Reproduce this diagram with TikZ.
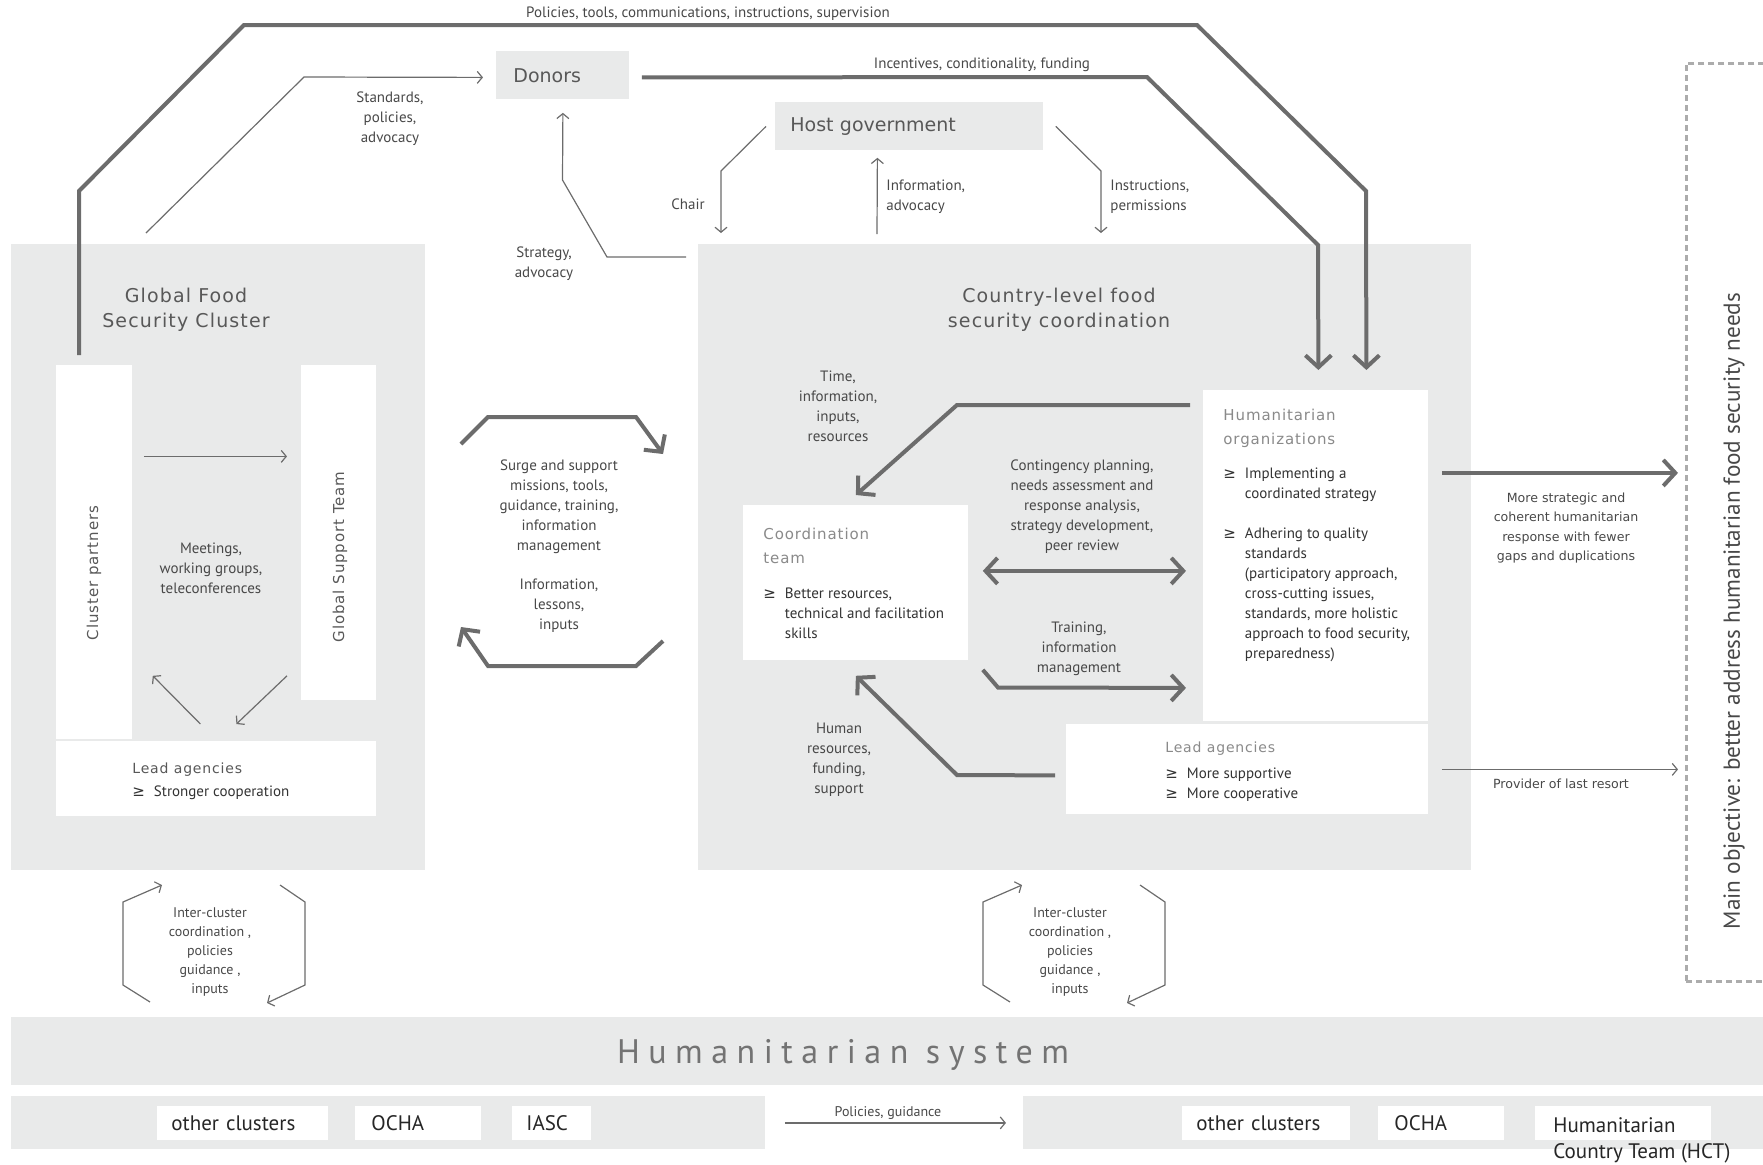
\documentclass[tikz,border=0pt]{standalone}
\usepackage{fontspec}
\setmainfont{PT Sans}
\newfontfamily\headfont[LetterSpace=6]{DejaVu Sans}
\newfontfamily\boxfont{DejaVu Sans}
\newfontfamily\sysfont[LetterSpace=25]{PT Sans}
\usetikzlibrary{arrows.meta, positioning, calc}
\definecolor{boxgray}{RGB}{233,234,234}
\definecolor{arrgray}{RGB}{108,108,108}
\definecolor{txtgray}{RGB}{72,72,72}
\definecolor{hdgray}{RGB}{88,88,88}
\definecolor{hdlight}{RGB}{138,138,138}
\definecolor{dashgray}{RGB}{172,172,172}
\newcommand{\lblsize}{\fontsize{7.5}{10}\selectfont}
\newcommand{\gebul}{{\boxfont ≥}\hspace{0.6em}}
\newcommand{\gein}{\phantom{\gebul}}

\begin{document}
\begin{tikzpicture}[x=0.5pt, y=-0.5pt,
    bigtip/.tip={Straight Barb[length=6pt, width=13pt]},
    thintip/.tip={Straight Barb[length=2.5pt, width=6pt]},
    gbox/.style={fill=boxgray, inner sep=0pt, anchor=north west},
    wbox/.style={fill=white, inner sep=0pt, anchor=north west},
    lbl/.style={font=\lblsize, text=txtgray, align=center, inner sep=0pt},
    hd/.style={font=\headfont\fontsize{9.5}{12.5}\selectfont, text=hdgray, align=center, inner sep=0pt},
    subhd/.style={font=\headfont\fontsize{7.5}{12}\selectfont, text=hdlight, align=left, inner sep=0pt, anchor=north west},
    bul/.style={font=\fontsize{7.5}{10}\selectfont, text=black!80, align=left, inner sep=0pt, anchor=north west},
    tagbox/.style={fill=white, inner sep=0pt, inner xsep=7pt, anchor=north west, minimum height=17pt,
                   font=\fontsize{10.5}{13}\selectfont, text=black!85, align=left},
    bigarr/.style={draw=arrgray, line width=2pt, -bigtip},
    bigdbl/.style={draw=arrgray, line width=2pt, bigtip-bigtip},
    thinarr/.style={draw=arrgray, line width=0.6pt, -thintip},
]
\useasboundingbox (0,0) rectangle (1763,1164);

% main boxes
\node[gbox, minimum width=207pt, minimum height=313pt] (gfsc) at (11,244) {};
\node[gbox, minimum width=386.5pt, minimum height=313pt] (clc) at (698,244) {};
\node[gbox, minimum width=66.5pt, minimum height=24pt, inner xsep=8.5pt, text width=49.5pt, align=left,
      font=\boxfont\fontsize{9.5}{11}\selectfont, text=hdgray] (donors) at (496,51) {Donors};
\node[gbox, minimum width=134pt, minimum height=24pt, inner xsep=7.5pt, text width=119pt, align=left,
      font=\boxfont\fontsize{9.5}{11}\selectfont, text=hdgray] (host) at (775,102) {Host government};
\node[hd] (gfsct) at (186,310) {Global Food\\Security Cluster};
\node[hd] (clct) at (1059,310) {Country-level food\\security coordination};

% global cluster
\node[wbox, minimum width=38pt, minimum height=187pt] (cp) at (56,365) {};
\node[wbox, minimum width=37.5pt, minimum height=167.5pt] (gst) at (301,365) {};
\node[wbox, minimum width=160pt, minimum height=37.5pt] (la1) at (56,741) {};
\node[rotate=90, font=\headfont\fontsize{7.5}{9}\selectfont, text=hdgray] (cpt) at (94,573) {Cluster partners};
\node[rotate=90, font=\headfont\fontsize{7.5}{9}\selectfont, text=hdgray] (gstt) at (340,557) {Global Support Team};
\node[subhd, font=\headfont\fontsize{7}{10}\selectfont, text=hdgray, anchor=west] (la1t) at (132,770) {Lead agencies};
\node[bul, anchor=west] (la1b) at (132,793) {\gebul Stronger cooperation};

% country level
\node[wbox, minimum width=112.5pt, minimum height=77.5pt] (coord) at (743,505) {};
\node[subhd] (coordt) at (763,528) {Coordination\\team};
\node[bul] (coordb) at (763,587) {\gebul Better resources,\\\gein technical and facilitation\\\gein skills};
\node[wbox, minimum width=112.5pt, minimum height=165.5pt] (hum) at (1203,390) {};
\node[subhd] (humt) at (1223,409) {Humanitarian\\organizations};
\node[bul] (humb) at (1223,467) {\gebul Implementing a\\\gein coordinated strategy\\[10pt]\gebul Adhering to quality\\\gein standards\\\gein (participatory approach,\\\gein cross-cutting issues,\\\gein standards, more holistic\\\gein approach to food security,\\\gein preparedness)};
\node[wbox, minimum width=181pt, minimum height=45pt] (la2) at (1066,724) {};
\node[subhd, font=\headfont\fontsize{7}{10}\selectfont, anchor=west] (la2t) at (1165,749) {Lead agencies};
\node[bul] (la2b) at (1165,767) {\gebul More supportive\\\gebul More cooperative};

% objective
\node[draw=dashgray, line width=1.3pt, dash pattern=on 3pt off 2pt, inner sep=0pt, anchor=north west,
      minimum width=50pt, minimum height=459pt] (objbox) at (1685,62) {};
\node[rotate=90, font=\fontsize{11.6}{13}\selectfont, text=txtgray] (objt) at (1734,611) {Main objective: better address humanitarian food security needs};
\coordinate (objin) at ([xshift=-3.5pt]objbox.west);

% humanitarian system
\node[gbox, minimum width=876pt, minimum height=34pt] (hsys) at (11,1017) {};
\node[font=\sysfont\fontsize{17}{20}\selectfont, text=black!55] (hsyst) at (843,1055) {Humanitarian system};
\node[gbox, minimum width=377pt, minimum height=26.5pt] (glob) at (11,1096) {};
\node[gbox, minimum width=370pt, minimum height=26.5pt] (ctry) at (1023,1096) {};
\node[tagbox, minimum width=85.5pt, text width=71.5pt] (oc1) at (157,1106) {other clusters};
\node[tagbox, minimum width=63pt, text width=47pt, inner xsep=8pt] (ocha1) at (355,1106) {OCHA};
\node[tagbox, minimum width=39.5pt, text width=25.5pt] (iasc) at (512,1106) {IASC};
\node[tagbox, minimum width=84pt, text width=70pt] (oc2) at (1182,1106) {other clusters};
\node[tagbox, minimum width=63pt, text width=47pt, inner xsep=8pt] (ocha2) at (1378,1106) {OCHA};
\node[tagbox, minimum width=88pt, text width=74pt] (hct) at (1535,1106) {};
\node[font=\fontsize{10.5}{13}\selectfont, text=black!85, align=left, anchor=north west, inner sep=0pt] (hctt) at (1553,1117) {Humanitarian\\Country Team (HCT)};

% labels
\node[lbl] (toplbl) at (708,14) {Policies, tools, communications, instructions, supervision};
\node[lbl] (inclbl) at (982,65) {Incentives, conditionality, funding};
\node[lbl] (stdlbl) at (390,119) {Standards,\\policies,\\advocacy};
\node[lbl] (stratlbl) at (544,264) {Strategy,\\advocacy};
\node[lbl] (chairlbl) at (688,204) {Chair};
\node[lbl, align=left, anchor=west] (infolbl) at (886,197) {Information,\\advocacy};
\node[lbl, align=left, anchor=west] (instlbl) at (1110,197) {Instructions,\\permissions};
\node[lbl] (meetlbl) at (211,568) {Meetings,\\working groups,\\teleconferences};
\node[lbl] (surgelbl) at (559,507) {Surge and support\\missions, tools,\\guidance, training,\\information\\management};
\node[lbl] (lesslbl) at (559,606) {Information,\\lessons,\\inputs};
\node[lbl] (timelbl) at (838,406) {Time,\\information,\\inputs,\\resources};
\node[lbl] (contlbl) at (1082,507) {Contingency planning,\\needs assessment and\\response analysis,\\strategy development,\\peer review};
\node[lbl] (trainlbl) at (1079,649) {Training,\\information\\management};
\node[lbl] (humanlbl) at (839,760) {Human\\resources,\\funding,\\support};
\node[lbl, font=\boxfont\fontsize{6.3}{9.8}\selectfont] (resplbl) at (1566,528) {More strategic and\\coherent humanitarian\\response with fewer\\gaps and duplications};
\node[lbl, font=\boxfont\fontsize{6.3}{9.8}\selectfont] (provlbl) at (1561,784) {Provider of last resort};
\node[lbl, font=\fontsize{7}{9.5}\selectfont] (icg) at (210,952) {Inter-cluster\\coordination ,\\policies\\guidance ,\\inputs};
\node[lbl, font=\fontsize{7}{9.5}\selectfont] (icc) at (1070,952) {Inter-cluster\\coordination ,\\policies\\guidance ,\\inputs};
\node[lbl, font=\fontsize{7}{9}\selectfont] (polg) at (888,1113) {Policies, guidance};

% top connectors
\draw[bigarr] ([xshift=34pt,yshift=-55.5pt]gfsc.north west) -- (79,191) -- (244,25) -- (1197,25) -- (1366,191) -- ([xshift=25.25pt,yshift=10pt]hum.north);
\draw[bigarr] ([xshift=6pt,yshift=-1pt]donors.east) -- (1147,77) -- (1318,245) -- ([xshift=1.25pt,yshift=10pt]hum.north);
\draw[thinarr] ([xshift=67.5pt,yshift=5.5pt]gfsc.north west) -- (304,77) -- ([xshift=-6.5pt,yshift=-1pt]donors.west);
\draw[thinarr] ([xshift=-6pt,yshift=-6.5pt]clc.north west) -- (607,257) -- (562.5,180) -- ([yshift=-6.5pt]donors.south);
\draw[thinarr] ([xshift=-4.5pt]host.west) -- (721,171) -- ([xshift=11.5pt,yshift=5.5pt]clc.north west);
\draw[thinarr] ([xshift=89.5pt,yshift=5pt]clc.north west) -- ([xshift=-16pt,yshift=-3.5pt]host.south);
\draw[thinarr] ([xshift=6pt]host.east) -- (1101,171) -- ([xshift=201.5pt,yshift=5.5pt]clc.north west);

% inside the global cluster
\draw[thinarr] ([xshift=5.5pt,yshift=48pt]cp.east) -- ([xshift=-7pt,yshift=38.25pt]gst.west);
\draw[thinarr] ([xshift=-8pt,yshift=8.5pt]la1.north) -- ([xshift=10pt,yshift=32pt]cp.south east);
\draw[thinarr] ([xshift=-7pt,yshift=12.5pt]gst.south west) -- ([xshift=10pt,yshift=8.5pt]la1.north);

% surge and support
\coordinate (sgA) at (461,444);
\coordinate (sgB) at (663,454);
\coordinate (sgC) at (663,641);
\coordinate (sgD) at (461,627);
\draw[bigarr] (sgA) -- (488,417) -- (636,417) -- (sgB);
\draw[bigarr] (sgC) -- (636,666) -- (488,666) -- (sgD);

% inside the country level
\draw[bigarr] ([xshift=-6.5pt,yshift=-7.5pt]hum.north west) -- (957,405) -- ([yshift=5pt]coord.north);
\draw[bigdbl] ([xshift=7pt,yshift=6pt]coord.east) -- ([xshift=-8.5pt,yshift=-7.5pt]hum.west);
\draw[bigarr] ([xshift=7pt,yshift=-4.5pt]coord.south east) -- (998,687.5) -- ([xshift=-8.5pt,yshift=-66pt]hum.west);
\draw[bigarr] ([xshift=-5.5pt,yshift=-3pt]la2.west) -- (957,775) -- ([yshift=-7.5pt]coord.south);

% towards the objective
\coordinate (respA) at ([xshift=6.5pt,yshift=41.5pt]hum.east);
\coordinate (provA) at ([xshift=6.5pt]la2.east);
\draw[bigarr] (respA) -- (respA -| objin);
\draw[thinarr] (provA) -- (provA -| objin);

% inter-cluster exchange
\foreach \ic in {icg, icc} {
  \draw[thinarr] ($(\ic)+(-60,50)$) -- ++(-27,-17) -- ++(0,-83) -- ++(39,-17);
  \draw[thinarr] ($(\ic)+(70,-67)$) -- ++(25,17) -- ++(0,83) -- ++(-38,18);
}
\draw[thinarr] ([xshift=9.5pt]glob.east) -- ([xshift=-8.5pt]ctry.west);
\end{tikzpicture}
\end{document}
